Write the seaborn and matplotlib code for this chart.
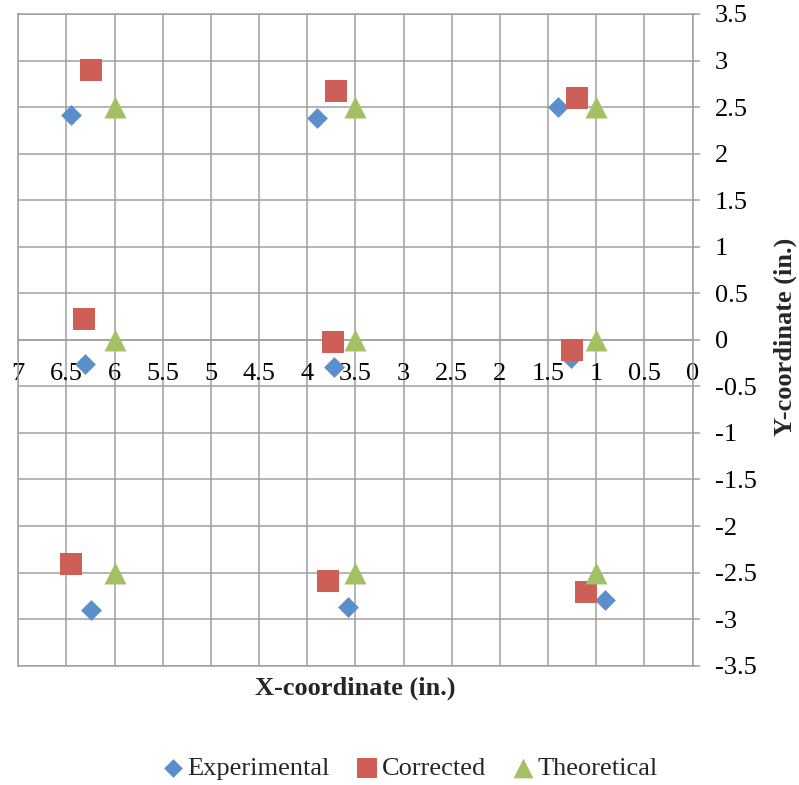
import matplotlib
matplotlib.use("Agg")
import matplotlib.pyplot as plt
import seaborn as sns
import pandas as pd
from matplotlib.ticker import FixedLocator, FixedFormatter

# ---- data ----
exp_x = [6.45, 3.90, 1.395, 6.31, 3.72, 1.26, 6.245, 3.575, 0.905]
exp_y = [2.41, 2.385, 2.50, -0.26, -0.29, -0.19, -2.90, -2.87, -2.79]

cor_x = [6.245, 3.70, 1.205, 6.315, 3.735, 1.257, 6.45, 3.785, 1.11]
cor_y = [2.90, 2.67, 2.60, 0.22, -0.02, -0.107, -2.41, -2.59, -2.71]

theo_x = [6, 3.5, 1, 6, 3.5, 1, 6, 3.5, 1]
theo_y = [2.5, 2.5, 2.5, 0, 0, 0, -2.5, -2.5, -2.5]

series_names = ["Experimental", "Corrected", "Theoretical"]

x_ticks = [7, 6.5, 6, 5.5, 5, 4.5, 4, 3.5, 3, 2.5, 2, 1.5, 1, 0.5, 0]
x_tick_labels = ["7", "6.5", "6", "5.5", "5", "4.5", "4", "3.5", "3", "2.5", "2", "1.5", "1", "0.5", "0"]
y_ticks = [3.5, 3, 2.5, 2, 1.5, 1, 0.5, 0, -0.5, -1, -1.5, -2, -2.5, -3, -3.5]
y_tick_labels = ["3.5", "3", "2.5", "2", "1.5", "1", "0.5", "0", "-0.5", "-1", "-1.5", "-2", "-2.5", "-3", "-3.5"]

x_label = "X-coordinate (in.)"
y_label = "Y-coordinate (in.)"

# ---- styling ----
sns.set_style("white")
plt.rcParams["font.family"] = ["Liberation Serif", "DejaVu Serif"]

colors = {"Experimental": "#5A8FCB", "Corrected": "#CD5F57", "Theoretical": "#A3C164"}
markers = {"Experimental": "D", "Corrected": "s", "Theoretical": "^"}
msizes = {"Experimental": 112, "Corrected": 232, "Theoretical": 250}
grid_color = "#A0A0A0"
fs = 19

df = pd.concat([
    pd.DataFrame({"x": exp_x, "y": exp_y, "series": series_names[0]}),
    pd.DataFrame({"x": cor_x, "y": cor_y, "series": series_names[1]}),
    pd.DataFrame({"x": theo_x, "y": theo_y, "series": series_names[2]}),
], ignore_index=True)

fig = plt.figure(figsize=(7.99, 7.85), dpi=100)
ax = fig.add_axes([0.0229, 0.1520, 0.844, 0.8302])

for name in series_names:
    sub = df[df["series"] == name]
    sns.scatterplot(data=sub, x="x", y="y", ax=ax, marker=markers[name],
                    s=msizes[name], color=colors[name], linewidth=0,
                    label=name, zorder=3, clip_on=False, legend=False)

ax.set_xlim(7, 0)
ax.set_ylim(-3.5, 3.5)

ax.xaxis.set_major_locator(FixedLocator(x_ticks))
ax.xaxis.set_major_formatter(FixedFormatter(x_tick_labels))
ax.yaxis.set_major_locator(FixedLocator(y_ticks))
ax.yaxis.set_major_formatter(FixedFormatter(y_tick_labels))

ax.grid(True, color=grid_color, linewidth=1.1)
ax.set_axisbelow(True)

for sp in ax.spines.values():
    sp.set_color(grid_color)
    sp.set_linewidth(1.1)
ax.spines["bottom"].set_position(("data", 0))
ax.axhline(-3.5, color=grid_color, linewidth=1.1, clip_on=False, zorder=0.5)

ax.yaxis.tick_right()
ax.tick_params(axis="y", which="major", right=True, left=False, length=5,
               width=1.1, color=grid_color, pad=11, labelsize=fs, labelcolor="black")
ax.tick_params(axis="x", which="major", bottom=True, length=0, pad=17,
               labelsize=fs, labelcolor="black")

ax.set_xlabel("")
ax.set_ylabel("")
fig.text(355 / 799, 1 - 688 / 785, x_label, ha="center", va="center",
         fontsize=fs, fontweight="bold")
fig.text(785 / 799, 1 - 337 / 785, y_label, ha="center", va="center",
         rotation=90, fontsize=fs, fontweight="bold")

handles, labels = ax.get_legend_handles_labels()
fig.legend(handles, labels, loc="center", bbox_to_anchor=(410 / 799, 1 - 768 / 785),
           ncol=3, frameon=False, fontsize=fs, markerscale=0.9,
           handlelength=0.8, handletextpad=0.15, columnspacing=1.0,
           borderaxespad=0)

fig.savefig("out.png", dpi=100)
